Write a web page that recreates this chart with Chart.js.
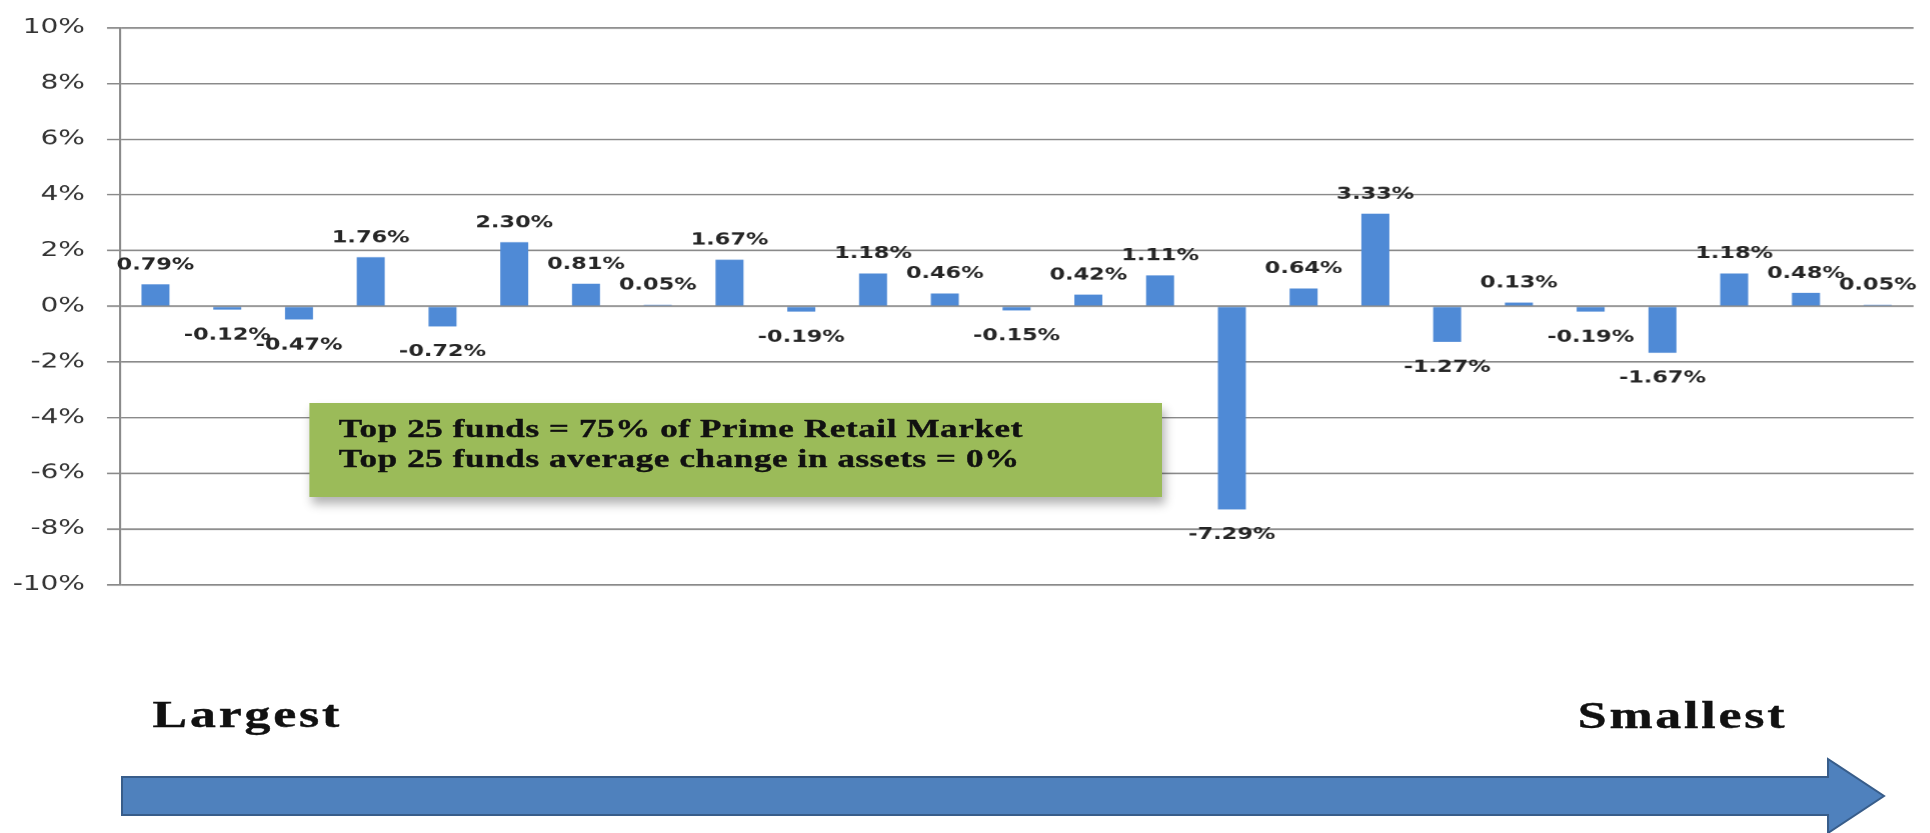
<!DOCTYPE html>
<html>
<head>
<meta charset="utf-8">
<script src="https://cdn.jsdelivr.net/npm/chart.js@4.4.1/dist/chart.umd.min.js"></script>
<style>
  html, body { margin: 0; padding: 0; background: #fff; overflow: hidden; }
  #page { position: relative; width: 1930px; height: 833px; }
  /* the original picture is stretched sideways, so the chart layer is too */
  #stretch { position: absolute; left: 0; top: 0; width: 1379px; height: 833px;
             transform: scaleX(1.4); transform-origin: 0 0; }
  #graph-canvas { position: absolute; left: 0; top: 0; }
  .note { position: absolute; left: 221px; top: 403px; width: 588px; height: 83px;
          padding: 11px 0 0 21px; background: #9BBB59;
          box-shadow: 2px 7px 8px rgba(0,0,0,0.3);
          font-family: 'Liberation Serif', serif; font-weight: bold; font-size: 25px;
          letter-spacing: 0.45px; -webkit-text-stroke: 0.4px #111;
          line-height: 30px; color: #111; white-space: nowrap; }
  .end { position: absolute; font-family: 'Liberation Serif', serif; font-weight: bold;
         font-size: 37px; line-height: 37px; letter-spacing: 2px; -webkit-text-stroke: 0.4px #111;
         color: #111; white-space: nowrap; }
  #arrow { position: absolute; left: 0; top: 0; }
</style>
</head>
<body>
<div id="page">
  <div id="stretch">
    <canvas id="graph-canvas"></canvas>
    <div class="note">Top 25 funds = 75% of Prime Retail Market<br>Top 25 funds average change in assets = 0%</div>
    <div class="end" style="left:109px; top:696px;">Largest</div>
    <div class="end" style="left:1127px; top:697px;">Smallest</div>
  </div>
  <svg id="arrow" width="1930" height="833">
    <path d="M122,777 H1828 V759 L1884,796 L1828,833 V815 H122 Z" fill="#4F81BD" stroke="#385D8A" stroke-width="2"/>
  </svg>
</div>
<script>
// funds ranked from largest to smallest
let funds = ['1','2','3','4','5','6','7','8','9','10','11','12','13','14','15','16','17','18','19','20','21','22','23','24','25'];
// change in assets, %
let change = [0.79, -0.12, -0.47, 1.76, -0.72, 2.30, 0.81, 0.05, 1.67, -0.19, 1.18, 0.46, -0.15, 0.42, 1.11, -7.29, 0.64, 3.33, -1.27, 0.13, -0.19, -1.67, 1.18, 0.48, 0.05];
let yTicks = [-10, -8, -6, -4, -2, 0, 2, 4, 6, 8, 10];

// value labels above / below each bar
let barLabels = {
  id: 'barLabels',
  afterDatasetsDraw(chart) {
    let ctx = chart.ctx;
    let meta = chart.getDatasetMeta(0);
    ctx.save();
    ctx.font = 'bold 16px "DejaVu Sans"';
    ctx.fillStyle = '#262626';
    ctx.textAlign = 'center';
    ctx.textBaseline = 'alphabetic';
    meta.data.forEach(function (bar, i) {
      let v = change[i];
      let y = v >= 0 ? bar.y - 15 : bar.y + 30;
      ctx.fillText(v.toFixed(2) + '%', bar.x, y);
    });
    ctx.restore();
  }
};

let canvas = document.getElementById('graph-canvas');
canvas.width = 1379;
canvas.height = 612;

let chartdata = {
  labels: funds,
  datasets: [
    {
      label: 'Change in assets',
      backgroundColor: '#4F8AD6',
      borderWidth: 0,
      categoryPercentage: 1,
      barPercentage: 0.39,
      data: change
    }
  ]
};

let barGraph = new Chart(canvas, {
  type: 'bar',
  data: chartdata,
  plugins: [barLabels],
  options: {
    responsive: false,
    animation: false,
    devicePixelRatio: 1.4,
    layout: { padding: { top: 19, bottom: 19, left: 0, right: 12.6 } },
    plugins: {
      legend: { display: false },
      tooltip: { enabled: false }
    },
    scales: {
      x: { display: false },
      y: {
        min: -10,
        max: 10,
        afterBuildTicks: function (scale) {
          scale.ticks = yTicks.map(function (v) { return { value: v }; });
        },
        afterFit: function (scale) { scale.width = 85.4; },
        ticks: {
          padding: 15.7,
          color: '#333',
          font: { family: 'DejaVu Sans', size: 20 },
          callback: function (v) { return v + '%'; }
        },
        grid: { color: '#8a8a8a', lineWidth: 1.6, tickLength: 9 },
        border: { color: '#8a8a8a', width: 1.5 }
      }
    }
  }
});
</script>
</body>
</html>
